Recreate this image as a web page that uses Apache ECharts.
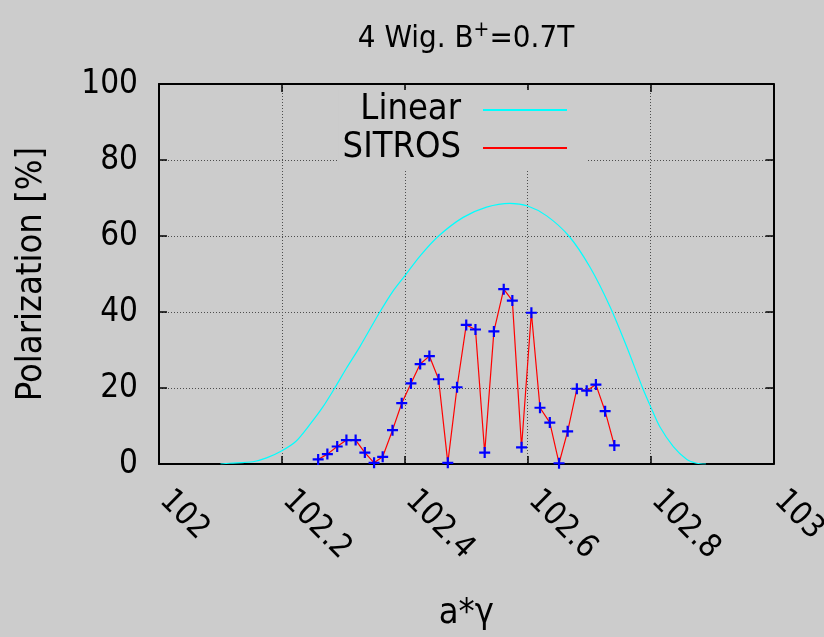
<!DOCTYPE html>
<html>
<head>
<meta charset="utf-8">
<script src="https://cdn.jsdelivr.net/npm/echarts@6/dist/echarts.min.js"></script>
<style>
  html, body { margin: 0; padding: 0; background: #cccccc; }
  #chart { width: 824px; height: 637px; }
</style>
</head>
<body>
<div id="chart"></div>
<script>
// Linear model curve (a*gamma, polarization %)
const linearX = [102.100, 102.115, 102.153, 102.175, 102.200, 102.223, 102.245, 102.267, 102.286, 102.305,
                 102.327, 102.358, 102.380, 102.400, 102.424, 102.455, 102.495, 102.533, 102.571, 102.600,
                 102.631, 102.667, 102.701, 102.734, 102.761, 102.787, 102.800, 102.815, 102.837, 102.859,
                 102.875, 102.890];
const linearY = [0, 0.2, 0.6, 1.6, 3.5, 6.0, 10.3, 15.1, 20.0, 25.2,
                 30.9, 39.6, 45.3, 49.5, 54.6, 60.0, 64.9, 67.6, 68.6, 67.9,
                 65.3, 60.0, 51.9, 41.4, 30.9, 20.0, 15.1, 9.8, 4.6, 1.2,
                 0.2, 0];

// SITROS simulation points
const sitrosX = [102.259, 102.274, 102.290, 102.305, 102.320, 102.335, 102.350, 102.364, 102.380, 102.395,
                 102.410, 102.425, 102.440, 102.455, 102.470, 102.485, 102.500, 102.515, 102.530, 102.545,
                 102.561, 102.575, 102.590, 102.606, 102.620, 102.636, 102.651, 102.665, 102.680, 102.696,
                 102.711, 102.726, 102.741];
const sitrosY = [1.2, 2.6, 4.6, 6.3, 6.3, 3.0, 0.3, 1.9, 8.9, 16.0,
                 21.2, 26.3, 28.4, 22.3, 0.3, 20.2, 36.6, 35.4, 3.0, 34.9,
                 46.0, 43.0, 4.4, 39.8, 14.8, 10.9, 0.2, 8.6, 19.8, 19.3,
                 20.9, 13.9, 4.9];

const xTicks = [102, 102.2, 102.4, 102.6, 102.8, 103];
const yTicks = [0, 20, 40, 60, 80, 100];

const FONT = '"Liberation Sans Narrow", "Arial Narrow", "Nimbus Sans Narrow", "DejaVu Sans Condensed", sans-serif';

const linearData = linearX.map((x, i) => [x, linearY[i]]);
const sitrosData = sitrosX.map((x, i) => [x, sitrosY[i]]);

const plusPath = 'path://M4,0h2v4h4v2h-4v4h-2v-4h-4v-2h4z';

const chart = echarts.init(document.getElementById('chart'), null, { renderer: 'canvas' });

const gridLine = { show: true, lineStyle: { color: '#4d4d4d', width: 1, type: [1, 2] } };

chart.setOption({
  backgroundColor: '#cccccc',
  animation: false,
  title: {
    text: '4 Wig. B{sup|+}=0.7T',
    left: 466, textAlign: 'center',
    top: 20,
    padding: 0,
    textStyle: {
      fontFamily: FONT, fontSize: 31, fontWeight: 'normal', color: '#000',
      rich: {
        sup: { fontFamily: FONT, fontSize: 21, color: '#000', padding: [0, 0, 16, 0] }
      }
    }
  },
  legend: {
    orient: 'vertical',
    align: 'right',
    right: 238,
    top: 90,
    padding: [2, 19, 4, 4],
    itemGap: 2,
    itemWidth: 84,
    itemHeight: 2,
    backgroundColor: '#cccccc',
    selectedMode: false,
    textStyle: { fontFamily: FONT, fontSize: 36, color: '#000', padding: [0, 17, 0, 0] },
    data: [
      { name: 'Linear', icon: 'rect', itemStyle: { color: '#00ffff' } },
      { name: 'SITROS', icon: 'rect', itemStyle: { color: '#ff0000' } }
    ]
  },
  grid: { left: 159, right: 50.5, top: 84, bottom: 173, containLabel: false, outerBoundsMode: 'none' },
  xAxis: [{
    type: 'value', min: 102, max: 103, interval: 0.2,
    name: 'a*γ', nameLocation: 'middle', nameGap: 132,
    nameTextStyle: { fontFamily: FONT, fontSize: 36, color: '#000' },
    axisLine: { show: true, onZero: false, lineStyle: { color: '#000', width: 2 } },
    axisTick: { show: true, inside: true, length: 8, lineStyle: { color: '#000', width: 1.5 } },
    axisLabel: {
      rotate: -45, margin: 26, padding: [0, 0, 0, 8], fontFamily: FONT, fontSize: 32, color: '#000',
      hideOverlap: false,
      formatter: v => xTicks.find(t => Math.abs(t - v) < 1e-6) !== undefined ? String(+v.toFixed(1)) : ''
    },
    splitLine: gridLine
  }, {
    type: 'value', position: 'top', min: 102, max: 103, interval: 0.2,
    axisLine: { show: true, onZero: false, lineStyle: { color: '#000', width: 2 } },
    axisTick: { show: true, inside: true, length: 8, lineStyle: { color: '#000', width: 1.5 } },
    axisLabel: { show: false }, splitLine: { show: false }
  }],
  yAxis: [{
    type: 'value', min: 0, max: 100, interval: 20,
    name: 'Polarization [%]', nameLocation: 'middle', nameGap: 109,
    nameTextStyle: { fontFamily: FONT, fontSize: 36, color: '#000' },
    axisLine: { show: true, onZero: false, lineStyle: { color: '#000', width: 2 } },
    axisTick: { show: true, inside: true, length: 8, lineStyle: { color: '#000', width: 1.5 } },
    axisLabel: {
      margin: 21, fontFamily: FONT, fontSize: 33, color: '#000',
      formatter: v => yTicks.includes(v) ? String(v) : ''
    },
    splitLine: gridLine
  }, {
    type: 'value', position: 'right', min: 0, max: 100, interval: 20,
    axisLine: { show: true, onZero: false, lineStyle: { color: '#000', width: 2 } },
    axisTick: { show: true, inside: true, length: 8, lineStyle: { color: '#000', width: 1.5 } },
    axisLabel: { show: false }, splitLine: { show: false }
  }],
  series: [{
    name: 'Linear',
    type: 'line',
    data: linearData,
    smooth: 0.3,
    showSymbol: false,
    symbol: 'none',
    lineStyle: { color: '#00ffff', width: 1.2 },
    itemStyle: { color: '#00ffff' },
    z: 3
  }, {
    name: 'SITROS',
    type: 'line',
    data: sitrosData,
    symbol: plusPath,
    symbolSize: 11,
    showAllSymbol: true,
    lineStyle: { color: '#ff0000', width: 1.2 },
    itemStyle: { color: '#0000ff' },
    z: 4
  }]
});
</script>
</body>
</html>
